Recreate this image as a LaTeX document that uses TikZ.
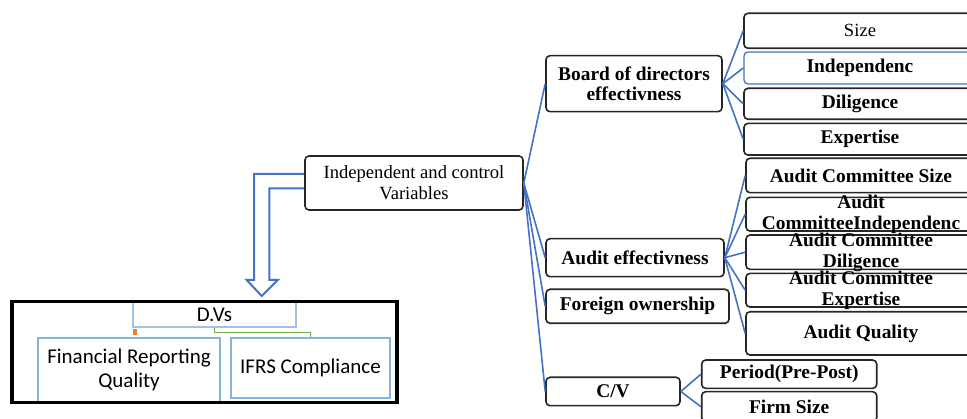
\documentclass[tikz,border=0pt]{standalone}
\usepackage{fontspec}
\setmainfont{Liberation Serif}
\newfontfamily\calib{Carlito}
\usetikzlibrary{calc}
\definecolor{cblue}{HTML}{4472C4}
\definecolor{lblue}{HTML}{9DC3E6}
\definecolor{mblue}{HTML}{85B4E3}
\definecolor{cgreen}{HTML}{70AD47}
\definecolor{corange}{HTML}{ED7D31}
\newcommand\myreg{\fontsize{18.6}{21}\selectfont}
\newcommand\mybold{\bfseries\fontsize{19.4}{20.8}\selectfont}
\newcommand\mysans{\calib\fontsize{21}{24}\selectfont}
\begin{document}
\begin{tikzpicture}[x=1pt,y=-1pt,
  wh/.style 2 args={minimum width=#1, minimum height=#2},
  dbox/.style={draw=black!85, line width=1.6pt, rounded corners=4pt, fill=white, inner sep=0pt, align=center, font=\mybold},
  ibox/.style={dbox, draw=cblue, line width=1.3pt},
  sbox/.style={draw=mblue, line width=2pt, fill=white, inner sep=0pt, align=center, font=\mysans},
  txt/.style={inner sep=0pt, align=center, font=\mybold},
  conn/.style={draw=cblue, line width=1.6pt},
  hollow/.style={draw=cblue, line width=2pt, line join=miter}]
\useasboundingbox (0,0) rectangle (967,419);
\clip (0,0) rectangle (967,419);

% left group
\node[sbox, wh={182pt}{64pt}] (frq) at (129,370) {Financial Reporting\\Quality};
\node[sbox, wh={159pt}{60pt}] (ifrs) at (310.5,368) {IFRS Compliance};
\node[sbox, draw=lblue, line width=1.5pt, wh={163pt}{25pt}] (dvs) at (214.5,314.5) {D.Vs};
\draw[draw=corange, line width=4pt] ($(dvs.south west)+(2.5,1)$) -- ++(0,6.5);
\draw[draw=cgreen, line width=1.5pt] (dvs.south) -- ++(0,5) -| (ifrs.north);
\node[draw=black, line width=3.5pt, inner sep=0pt, wh={385pt}{101pt}] (dvframe) at (204.5,352) {};

% root
\node[dbox, font=\myreg, wh={218pt}{54pt}] (ind) at (414,183) {Independent and control\\Variables};
\draw[hollow] ($(ind.west)+(0,-9)$) -- (254,174) -- (254,280) -- (246.7,280) -- (261.7,296)
  -- (277.7,280) -- (269.3,280) -- (269.3,188.3) -- ($(ind.west)+(0,5.3)$);

% second level
\node[dbox, wh={176pt}{56pt}] (board) at (634,83.7) {Board of directors\\effectivness};
\node[dbox, wh={178pt}{38pt}] (audit) at (635,257.7) {Audit effectivness};
\node[dbox, wh={183pt}{34pt}] (foreign) at (637.5,306.3) {Foreign ownership};
\node[dbox, wh={134pt}{28.4pt}] (cv) at (613,391.5) {C/V};

% board children
\node[dbox, font=\myreg, wh={232pt}{35pt}] (size) at (860,30.8) {Size};
\node[ibox, wh={232pt}{32pt}] (indep) at (860,68) {Independenc};
\node[dbox, wh={232pt}{31pt}] (dil) at (860,103.8) {Diligence};
\node[dbox, wh={232pt}{31.7pt}] (exp) at (860,139.2) {Expertise};

% audit children
\node[dbox, wh={230pt}{34.4pt}] (acs) at (861,175.5) {Audit Committee Size};
\node[dbox, wh={230pt}{33.7pt}] (aci) at (861,214.2) {};
\node[txt] (acit) at (aci) {Audit\\CommitteeIndependenc};
\node[dbox, wh={230pt}{34.3pt}] (acd) at (861,252.2) {};
\node[txt] (acdt) at (acd) {Audit Committee\\Diligence};
\node[dbox, wh={230pt}{33.7pt}] (ace) at (861,290.2) {};
\node[txt] (acet) at (ace) {Audit Committee\\Expertise};
\node[dbox, wh={230pt}{43.3pt}] (aq) at (861,333.4) {Audit Quality};

% control variables
\node[dbox, wh={175pt}{28.3pt}] (period) at (789.2,374.2) {Period(Pre-Post)};
\node[dbox, wh={175pt}{30pt}] (firm) at (789.2,406.7) {Firm Size};

% connectors
\foreach \t in {board,audit,foreign,cv} \draw[conn] (ind.east) -- (\t.west);
\foreach \t in {size,indep,dil,exp} \draw[conn] (board.east) -- (\t.west);
\foreach \t in {acs,aci,acd,ace,aq} \draw[conn] (audit.east) -- (\t.west);
\foreach \t in {period,firm} \draw[conn] (cv.east) -- (\t.west);
\end{tikzpicture}
\end{document}
